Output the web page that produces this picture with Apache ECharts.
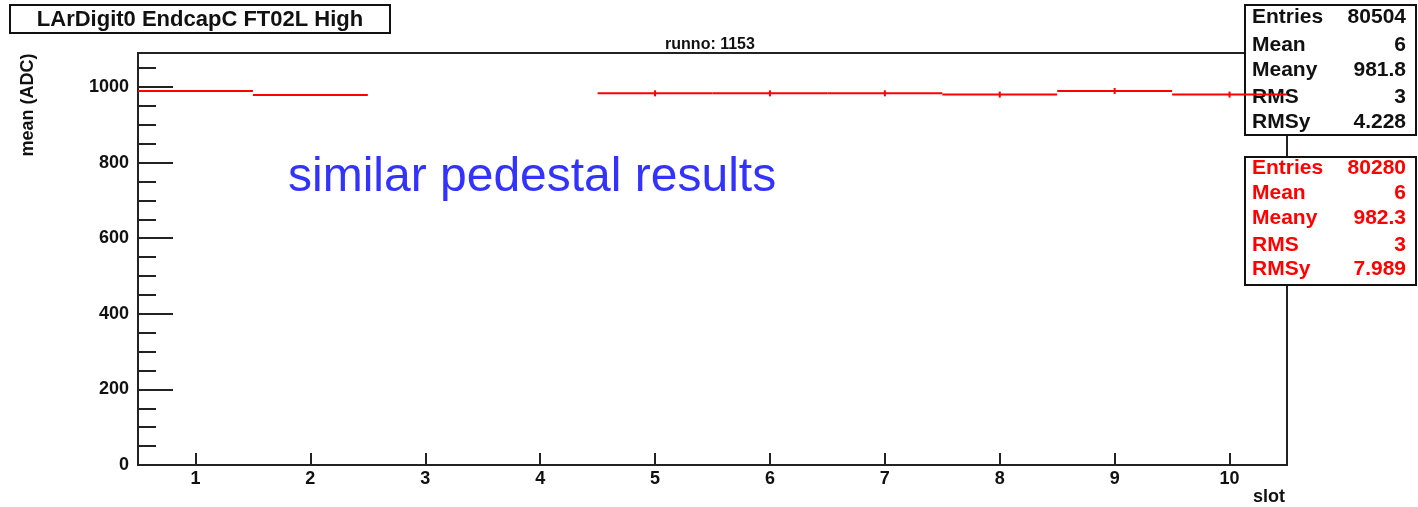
<!DOCTYPE html>
<html>
<head>
<meta charset="utf-8">
<title>LArDigit0 EndcapC FT02L High</title>
<script src="https://cdn.jsdelivr.net/npm/echarts@6/dist/echarts.min.js"></script>
<style>
  html, body { margin: 0; padding: 0; background: #ffffff; }
  #chart { width: 1418px; height: 507px; }
</style>
</head>
<body>
<div id="chart"></div>
<script>
// Mean pedestal (ADC) per slot, run 1153
const slots = [1, 2, 5, 6, 7, 8, 9, 10];
const meanADC = [989.4, 978.9, 983.3, 983.3, 983.3, 979.9, 989.4, 979.9];
const meanErr = [0, 0, 8, 8, 8, 8, 8, 8];

// Axis ticks
const xTicks = [1, 2, 3, 4, 5, 6, 7, 8, 9, 10];
const yMajorTicks = [0, 200, 400, 600, 800, 1000];
const yMinorTicks = [50, 100, 150, 250, 300, 350, 450, 500, 550, 650, 700, 750, 850, 900, 950, 1050];

// Statistics boxes
const statLabels = ['Entries', 'Mean', 'Meany', 'RMS', 'RMSy'];
const statsRef = ['80504', '6', '981.8', '3', '4.228'];
const statsRun = ['80280', '6', '982.3', '3', '7.989'];

const FONT = '"Liberation Sans", Arial, Helvetica, sans-serif';
const chart = echarts.init(document.getElementById('chart'), null, { renderer: 'canvas' });

function statTexts(values, color, rowsY) {
  const out = [];
  statLabels.forEach((lab, i) => {
    out.push({ type: 'text', z: 10, x: 1252, y: rowsY[i],
      style: { text: lab, fill: color, font: 'bold 21px ' + FONT, align: 'left', verticalAlign: 'middle' } });
    out.push({ type: 'text', z: 10, x: 1406, y: rowsY[i],
      style: { text: values[i], fill: color, font: 'bold 21px ' + FONT, align: 'right', verticalAlign: 'middle' } });
  });
  return out;
}

const plainNumber = v => String(v);

const option = {
  animation: false,
  backgroundColor: '#ffffff',
  grid: { left: 138, top: 53, right: 131, bottom: 42, show: true,
          borderColor: '#222', borderWidth: 2, backgroundColor: 'transparent', containLabel: false },
  xAxis: {
    type: 'value', min: 0.5, max: 10.5,
    axisLine: { show: true, onZero: false, lineStyle: { color: '#222', width: 2 } },
    axisTick: { show: true, inside: true, length: 12, customValues: xTicks, lineStyle: { color: '#222', width: 2 } },
    axisLabel: { show: true, customValues: xTicks, formatter: plainNumber, margin: 5,
                 fontFamily: FONT, fontWeight: 'bold', fontSize: 18, color: '#111' },
    splitLine: { show: false }
  },
  yAxis: [
    {
      type: 'value', min: 0, max: 1090, position: 'left',
      axisLine: { show: true, onZero: false, lineStyle: { color: '#222', width: 2 } },
      axisTick: { show: true, inside: true, length: 35, customValues: yMajorTicks, lineStyle: { color: '#222', width: 2 } },
      axisLabel: { show: true, customValues: yMajorTicks, formatter: plainNumber, margin: 9,
                   fontFamily: FONT, fontWeight: 'bold', fontSize: 18, color: '#111' },
      splitLine: { show: false }
    },
    {
      type: 'value', min: 0, max: 1090, position: 'left', offset: 0,
      axisLine: { show: false },
      axisTick: { show: true, inside: true, length: 18, customValues: yMinorTicks, lineStyle: { color: '#222', width: 2 } },
      axisLabel: { show: false },
      splitLine: { show: false }
    }
  ],
  series: [{
    type: 'custom',
    zlevel: 1,
    z: 100,
    xAxisIndex: 0,
    yAxisIndex: 0,
    clip: false,
    encode: { x: 0, y: 1 },
    data: slots.map((s, i) => [s, meanADC[i], meanErr[i]]),
    renderItem: function (params, api) {
      const x = api.value(0), y = api.value(1), e = api.value(2);
      const a = api.coord([x - 0.5, y]);
      const b = api.coord([x + 0.5, y]);
      const style = { stroke: '#ff0000', lineWidth: 2 };
      const children = [{ type: 'line', shape: { x1: a[0], y1: a[1], x2: b[0], y2: b[1] }, style: style }];
      if (e > 0) {
        const t = api.coord([x, y + e]);
        const d = api.coord([x, y - e]);
        children.push({ type: 'line', shape: { x1: t[0], y1: t[1], x2: d[0], y2: d[1] }, style: style });
      }
      return { type: 'group', children: children };
    }
  }],
  graphic: [
    // title box
    { type: 'rect', z: 1, shape: { x: 10, y: 5, width: 380, height: 28 },
      style: { fill: '#fff', stroke: '#111', lineWidth: 2 } },
    { type: 'text', z: 10, x: 200, y: 20,
      style: { text: 'LArDigit0 EndcapC FT02L High', fill: '#111', font: 'bold 22px ' + FONT, align: 'center', verticalAlign: 'middle' } },
    // run number
    { type: 'text', z: 10, x: 710, y: 45,
      style: { text: 'runno: 1153', fill: '#111', font: 'bold 16px ' + FONT, align: 'center', verticalAlign: 'middle' } },
    // axis titles
    { type: 'text', z: 10, x: 28, y: 105, rotation: Math.PI / 2,
      style: { text: 'mean (ADC)', fill: '#111', font: 'bold 18px ' + FONT, align: 'center', verticalAlign: 'middle' } },
    { type: 'text', z: 10, x: 1285, y: 497,
      style: { text: 'slot', fill: '#111', font: 'bold 18px ' + FONT, align: 'right', verticalAlign: 'middle' } },
    // annotation
    { type: 'text', z: 10, x: 288, y: 178,
      style: { text: 'similar pedestal results', fill: '#3333ff', font: '48px ' + FONT, align: 'left', verticalAlign: 'middle' } },
    // statistics boxes
    { type: 'rect', z: 1, shape: { x: 1245, y: 5, width: 171, height: 130 },
      style: { fill: '#fff', stroke: '#111', lineWidth: 2 } },
    { type: 'rect', z: 1, shape: { x: 1245, y: 157, width: 171, height: 128 },
      style: { fill: '#fff', stroke: '#111', lineWidth: 2 } }
  ].concat(statTexts(statsRef, '#111', [17, 45, 70, 97, 122]))
   .concat(statTexts(statsRun, '#ff0000', [168, 193, 218, 245, 269]))
};

chart.setOption(option);
</script>
</body>
</html>
